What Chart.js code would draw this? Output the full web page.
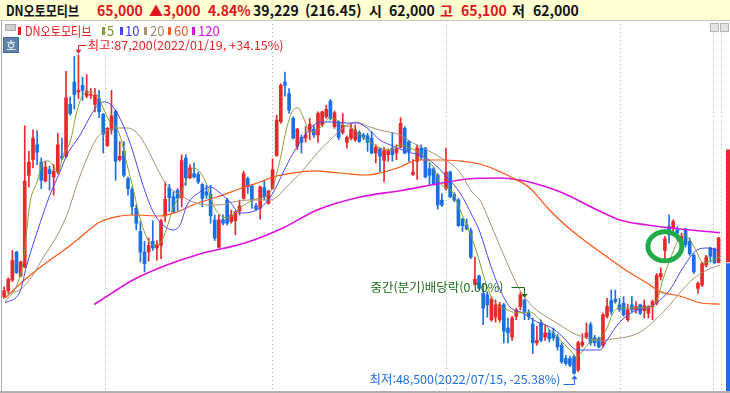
<!DOCTYPE html>
<html lang="ko">
<head>
<meta charset="utf-8">
<title>DN오토모티브</title>
<script src="https://cdn.jsdelivr.net/npm/chart.js@4.4.1/dist/chart.umd.min.js"></script>
<style>
  html, body { margin: 0; padding: 0; background: #fff; }
  #box { position: relative; width: 730px; height: 393px; overflow: hidden; font-family: "Noto Sans CJK KR", "Noto Sans", sans-serif; }
  #chart { position: absolute; left: 0; top: 0; }
  #head { position: absolute; left: 0; top: 0; width: 730px; height: 20px; background: #ffffd2; border-bottom: 1px solid #c4c4c4; z-index: 3; }
  #head span { position: absolute; top: 0; font-size: 14px; font-weight: bold; line-height: 20px; white-space: nowrap; color: #111; }
  #head .up { color: #e0141c; }
  .sq { transform: scaleX(0.86); transform-origin: 0 0; }
  .lg { position: absolute; top: 23px; font-size: 13px; line-height: 16px; white-space: nowrap; z-index: 2; }
  .mk { position: absolute; top: 27px; width: 3px; height: 8px; z-index: 2; }
  .ico { position: absolute; top: 23px; width: 7px; height: 7px; border: 1px solid #b4b4b4; background: #e4e4e4; z-index: 2; }
  #ho { position: absolute; left: 3px; top: 37px; width: 14px; height: 14px; background: #5f82aa; border: 1px solid #45668e; color: #fff; font-size: 11px; line-height: 14px; text-align: center; z-index: 2; }
  #lb { position: absolute; left: 1px; top: 21px; width: 1px; height: 372px; background: #a8a8a8; z-index: 2; }
  #bb { position: absolute; left: 0; top: 391px; width: 730px; height: 2px; background: #b0b0b0; z-index: 2; }
</style>
</head>
<body>
<div id="box">
  <canvas id="chart" width="730" height="393"></canvas>
  <div id="head">
    <span class="sq" style="left:6px">DN오토모티브</span>
    <span class="up" style="left:97px">65,000</span>
    <span class="up" style="left:149px">▲3,000</span>
    <span class="up" style="left:208px">4.84%</span>
    <span style="left:253px">39,229</span>
    <span style="left:305px">(216.45)</span>
    <span style="left:369px">시</span>
    <span style="left:389px">62,000</span>
    <span class="up" style="left:440px">고</span>
    <span class="up" style="left:461px">65,100</span>
    <span style="left:512px">저</span>
    <span style="left:533px">62,000</span>
  </div>
  <div style="position:absolute;left:5px;top:24px;width:9px;height:5px;background:#cfcfcf;border:1px solid #a9a9a9;z-index:2"></div>
  <div class="mk" style="left:18px;background:#e02020"></div>
  <div class="lg sq" style="left:25px;color:#e02020;transform:scaleX(0.85)">DN오토모티브</div>
  <div class="mk" style="left:102px;background:#84a030"></div>
  <div class="lg" style="left:107px;color:#7a9a2c">5</div>
  <div class="mk" style="left:120px;background:#4646f6"></div>
  <div class="lg" style="left:125px;color:#3c3cf0">10</div>
  <div class="mk" style="left:144px;background:#a89070"></div>
  <div class="lg" style="left:150px;color:#a08a6c">20</div>
  <div class="mk" style="left:168px;background:#ff5a1e"></div>
  <div class="lg" style="left:174px;color:#ff5a1e">60</div>
  <div class="mk" style="left:192px;background:#e010dc"></div>
  <div class="lg" style="left:198px;color:#d810d8">120</div>
  <div id="ho">호</div>
  <div class="ico" style="left:710px"></div>
  <div class="ico" style="left:720px"></div>
  <div id="lb"></div>
  <div id="bb"></div>
</div>
<script>
// daily candles, oldest first (index 0 .. 173)
const opens = [57900,58600,59900,63300,60400,61500,72600,74500,76300,74200,71900,73300,72400,73000,74900,74900,81200,83900,82700,83500,
  82200,82300,81200,81900,80000,76200,78100,80400,74500,75500,72200,70900,68600,65800,63300,63300,64600,63800,64100,67800,
  71100,70000,70800,69900,74700,72300,72800,72700,71500,70600,70300,67200,63900,67200,69600,67000,67100,68300,69800,72200,
  71300,68900,68600,71100,69200,71000,75000,79100,83900,82500,79500,76100,77200,77100,77900,78200,77500,78700,79700,81600,
  78500,79100,77800,76600,77100,76900,77800,77500,77400,77100,75300,75800,74400,75100,75900,75300,76000,78300,76700,72700,
  74300,75900,75900,73400,73400,72600,69600,71000,73000,70300,69600,67300,66600,65900,59400,60400,58300,58100,55100,55400,
  55100,56900,54100,53000,55500,56700,57500,55900,54600,52300,54700,53000,53500,53500,53000,52000,50400,50400,50600,49000,
  52000,53000,54500,52900,52800,52000,55500,57400,57600,56900,57100,55100,56900,56300,56900,56200,55900,56700,57100,60300,
  63500,66400,66200,66000,64700,66100,64600,62900,58900,59300,61700,63800,63700,62000];
const highs = [59100,60200,63500,63400,62200,78600,75500,78100,78000,74700,74300,73700,73900,77700,77100,85200,82100,87000,87200,84500,
  84800,83100,83100,82900,80100,78400,82900,80500,76700,76700,72400,71200,69000,67000,64600,65000,67100,64700,67300,71800,
  71500,70600,71000,75100,75100,73900,74100,73000,71600,71400,71400,67800,67800,67800,69800,68400,68300,69600,73100,72400,
  71500,69200,71300,71900,70800,74600,79900,83700,85100,83100,79700,78300,77500,78500,79500,78700,80300,80400,81100,81800,
  80400,79200,80100,77400,78900,78700,78000,77700,77700,77900,76300,75900,76000,75800,77800,76300,79600,78500,76800,74500,
  76300,76300,76000,74100,73600,72800,70400,75900,73100,70500,69800,67400,67300,66200,62700,60500,59400,58500,57900,57500,
  57200,57100,55300,55500,56500,58400,57600,56300,55300,54300,55100,54500,53900,54100,53300,52300,50800,50700,50800,52500,
  53400,54700,54800,53200,53000,55900,57700,58700,58700,57700,57900,57000,57900,57300,57000,57500,56800,57500,60700,61400,
  65200,67800,67200,66400,65600,66200,65000,63100,59700,62100,62900,63900,63800,65100];
const lows = [57700,58300,59700,60700,60300,61400,71200,73500,73900,71000,71800,70800,70200,72800,74500,74700,79900,80600,81900,81700,
  82000,81900,80300,79600,75300,76100,77600,72000,74300,72400,70200,67800,66000,62100,60900,62200,63500,62300,62500,67000,
  68200,68000,68300,68800,71400,72200,72300,71600,68800,69800,66800,64700,63800,66600,66600,66800,65400,67800,69700,70400,
  68600,68400,67300,69600,69100,70900,74900,78900,82200,80100,77000,75700,75300,76600,76900,77200,76600,78500,79500,79300,
  78300,76900,77600,75900,76900,76700,76600,76900,75500,75200,74100,73000,71800,74300,74300,74500,75900,75200,74300,72600,
  72100,74500,72300,71500,71400,68500,68800,70800,69900,69400,66400,65800,66000,62500,59300,58800,54500,55400,54900,54800,
  54800,52300,52300,52600,55100,56300,55100,55100,51000,52000,52400,52600,52400,52600,51400,49800,49600,49400,48500,48800,
  51800,52800,52000,51900,51700,51800,55300,55800,57100,56100,55500,54900,56000,55900,55700,55300,55300,55100,56900,59900,
  62100,64400,65400,64700,64200,63900,62900,60700,58300,59100,61500,62100,61900,62000];
const closes = [58600,60000,62300,60800,62100,71900,74200,77100,75400,72000,73600,72800,73100,76300,74700,82000,80100,82400,82900,82900,
  82800,82400,82300,80300,77600,78300,79800,74300,74900,72600,71000,68800,66800,63300,61900,64100,63800,64200,67100,69700,
  69900,68200,69800,74400,72300,73500,72400,71800,69800,70200,67700,65000,67200,66800,66800,67800,68200,68900,72800,71200,
  69600,68500,71200,70000,70700,73300,79300,83500,83500,80500,77100,78200,76600,77500,78800,77500,80100,80300,80600,79500,
  80200,77200,78700,77200,78200,78100,76700,77200,76600,75300,76000,74900,75600,75600,75100,75800,78900,75300,75500,73000,
  75900,74800,72400,72600,71500,69000,69000,73000,70000,69600,66500,66500,66100,62700,60000,58900,56500,56900,57600,56900,
  56900,53700,53500,55300,56300,58100,56100,55500,52300,52600,52600,53500,52800,52900,51800,50000,49800,49600,48600,52300,
  52400,53500,52300,52300,51800,55700,56700,56100,57300,56300,55700,56300,56300,56700,55900,56800,56700,57300,60500,60700,
  64900,65400,67000,65600,65200,64200,63100,60900,59500,61900,62700,62800,62000,65000];

// moving averages: [candle index, price]
const ma5 = [[0.2,57250],[3.1,59310],[4.6,62100],[6.3,69370],[8.0,71790],[9.4,74210],[10.6,74340],[11.8,73850],[13.1,73000],[14.3,75060],
  [16.0,76640],[17.6,80280],[19.1,82340],[20.8,82700],[22.5,82340],[23.9,80880],[25.6,79060],[27.3,78340],[28.5,76640],[29.8,73850],
  [31.2,71060],[32.9,67430],[34.6,65010],[36.1,64160],[37.8,64400],[39.4,66220],[40.9,68640],[42.6,70220],[44.3,72280],[45.7,73490],
  [47.4,73000],[49.1,71430],[50.6,69010],[52.3,67790],[54.0,67430],[55.4,67790],[57.1,68640],[60.3,69610],[63.7,70220],[65.1,71180],
  [66.8,74460],[68.5,78460],[70.0,80520],[71.2,80760],[72.4,79670],[74.1,77850],[75.8,78090],[77.2,78700],[78.9,79550],[80.6,79310],
  [82.1,78700],[83.8,78460],[85.4,77850],[86.9,77250],[88.6,76640],[91.0,75910],[93.4,75670],[95.9,76280],[98.3,75910],[100.7,75310],
  [102.4,74460],[103.9,73610],[105.5,71670],[107.2,71060],[108.7,70460],[110.4,68400],[112.8,65610],[114.5,63190],[116.4,59920],[118.4,57490],
  [121.8,56280],[124.9,55920],[127.3,56040],[129.8,55070],[132.2,53860],[134.6,52650],[137.0,51430],[138.7,50580],[140.2,51430],[142.6,52650],
  [144.3,52890],[146.0,54100],[147.4,55920],[149.1,56520],[151.6,56520],[154.0,56520],[156.4,56640],[158.1,57490],[159.5,59920],[161.2,62340],
  [162.9,64400],[164.4,65370],[166.1,64770],[167.8,63190],[169.2,61980],[171.6,62340],[173.3,62700]];
const ma10 = [[0.2,57130],[3.8,58460],[5.5,61730],[8.0,65730],[11.1,70220],[13.5,73000],[15.2,75060],[18.4,77490],[21.5,80280],[23.2,81370],
  [24.4,81490],[26.4,80880],[28.8,78700],[31.2,75430],[33.6,71430],[36.1,68160],[38.5,66580],[40.9,65980],[42.6,66580],[44.3,69010],
  [47.4,70580],[49.9,71180],[52.3,70460],[54.7,69370],[57.1,68030],[62.0,68640],[65.1,70460],[67.5,72880],[70.0,75310],[73.3,77730],
  [76.5,79060],[79.6,79060],[83.0,78940],[85.4,78940],[87.9,78340],[91.0,76880],[94.2,76150],[97.6,75430],[100.7,75060],[103.9,74090],
  [107.2,72400],[110.4,70460],[113.5,67550],[115.2,65730],[117.6,61980],[120.1,58700],[122.5,56640],[125.6,55920],[129.0,54820],[132.2,54220],
  [135.3,53010],[137.0,52040],[138.7,51430],[141.9,51430],[144.3,51430],[146.0,52650],[149.1,54820],[153.2,56280],[156.4,56640],[158.8,57490],
  [161.2,58700],[163.6,60760],[166.1,62700],[167.8,63550],[170.2,63790],[173.3,63430]];
const ma20 = [[0.7,58340],[3.8,58700],[7.0,60520],[9.4,62580],[11.8,64400],[15.2,67790],[17.6,71430],[20.1,74700],[22.5,77120],[24.9,77970],
  [27.3,78340],[29.8,78340],[32.2,77730],[34.6,75910],[37.0,73490],[39.4,71430],[42.6,70220],[45.7,69370],[49.1,69010],[52.3,69010],
  [55.4,69370],[59.5,69610],[64.4,69610],[69.2,71600],[73.3,73760],[75.8,75310],[78.9,76880],[82.1,78340],[85.4,79060],[87.9,78580],
  [91.0,78090],[95.9,77490],[99.0,76520],[102.4,75670],[105.5,74820],[109.7,73370],[113.5,70460],[115.2,69610],[118.4,65980],[121.8,61980],
  [124.9,58700],[128.1,56640],[131.4,55430],[134.6,54460],[137.7,53490],[141.1,52890],[144.3,52520],[147.4,52770],[150.8,53010],[154.0,53610],
  [157.1,54820],[160.5,56520],[163.6,58340],[166.8,60030],[170.2,61130],[173.3,61730]];
const ma60 = [[0.2,57730],[5.5,60160],[11.1,62340],[15.2,63790],[19.1,65370],[23.2,66940],[28.1,67670],[31.2,67790],[37.8,67670],[41.9,68160],
  [45.7,69010],[51.5,69970],[58.3,71180],[62.0,71790],[65.1,72400],[70.0,72880],[74.8,73130],[81.3,72880],[87.9,72640],[91.0,72880],
  [95.9,73610],[100.0,74460],[105.5,74460],[110.4,74340],[115.2,73970],[120.1,73040],[123.2,72280],[127.3,71060],[131.4,68760],[135.3,66820],
  [139.4,65130],[146.0,62700],[151.6,60760],[155.7,59550],[158.8,58500],[163.6,57980],[168.5,57160],[173.3,57000]];
const ma120 = [[21.8,56950],[26.0,58300],[31.2,59920],[39.4,61730],[47.4,63070],[58.3,64400],[67.5,66220],[75.8,68400],[86.2,69970],
  [95.9,70740],[104.8,71550],[112.1,72160],[120.1,72280],[124.9,72030],[128.1,71670],[135.3,70460],[143.6,68400],[149.1,67190],[155.7,66580],
  [163.6,66100],[173.3,65650]];

// two-month separators (candle index) and the price grid
const monthLines = [5.5, 43.8, 86.4, 127.6, 170.9, 172.8];
const priceStep = 2500;
const priceTopLine = 85000;

// side gauge at the right edge
const gaugeSlot = 175.35;
const gaugeRed = [62100, 75700];
const gaugeBlue = [46218, 61900];

// marks on the chart
const highMark = { i: 18, v: 87200, text: '최고:87,200(2022/01/19, +34.15%)' };
const lowMark = { i: 138, v: 48500, text: '최저:48,500(2022/07/15, -25.38%)' };
const divMark = { i: 126, v: 57600, text: '중간(분기)배당락(0.00%)' };
const ringMark = { i: 160, v: 64000 };

const UP = '#e8282c';
const DOWN = '#1a6fe3';
const GRID = '#b2b2b2';

const idx = closes.map((_, i) => i);
const candleColor = idx.map(i => (closes[i] >= opens[i] ? UP : DOWN));
const pts = arr => arr.map(([x, y]) => ({ x, y }));

function maLine(label, data, color, width) {
  return {
    type: 'line', label, data: pts(data),
    borderColor: color, borderWidth: width,
    pointRadius: 0, cubicInterpolationMode: 'monotone', order: 1,
  };
}

function fitText(ctx, text, x, y, w, alignRight) {
  const m = ctx.measureText(text).width;
  ctx.save();
  ctx.translate(alignRight ? x - w : x, y);
  ctx.scale(w / m, 1);
  ctx.fillText(text, 0, 0);
  ctx.restore();
}

function arrowHead(ctx, x, tipY, dir) {
  ctx.beginPath();
  ctx.moveTo(x - 3, tipY - 4 * dir);
  ctx.lineTo(x + 3, tipY - 4 * dir);
  ctx.lineTo(x, tipY);
  ctx.closePath();
  ctx.fill();
}

const marksPlugin = {
  id: 'marks',
  afterDatasetsDraw(chart) {
    const { ctx, scales: { x, y } } = chart;
    ctx.save();
    ctx.font = '12px "Noto Sans CJK KR", sans-serif';
    ctx.textBaseline = 'middle';
    ctx.lineWidth = 1;

    // highest price
    let px = Math.round(x.getPixelForValue(highMark.i)) + 0.5;
    let py = y.getPixelForValue(highMark.v);
    ctx.strokeStyle = ctx.fillStyle = '#e42424';
    ctx.beginPath();
    ctx.moveTo(px + 8, Math.round(py - 10) + 0.5);
    ctx.lineTo(px, Math.round(py - 10) + 0.5);
    ctx.lineTo(px, py - 4);
    ctx.stroke();
    arrowHead(ctx, px, py - 1, 1);
    fitText(ctx, highMark.text, px + 9, py - 9, 196, false);

    // lowest price
    px = Math.round(x.getPixelForValue(lowMark.i)) + 0.5;
    py = y.getPixelForValue(lowMark.v);
    ctx.strokeStyle = ctx.fillStyle = '#1e6fe0';
    ctx.beginPath();
    ctx.moveTo(px - 11, Math.round(py + 10) + 0.5);
    ctx.lineTo(px, Math.round(py + 10) + 0.5);
    ctx.lineTo(px, py + 5);
    ctx.stroke();
    arrowHead(ctx, px, py + 1, -1);
    fitText(ctx, lowMark.text, px - 14, py + 5, 191, true);

    // dividend date
    px = Math.round(x.getPixelForValue(divMark.i)) + 0.5;
    py = y.getPixelForValue(divMark.v);
    ctx.strokeStyle = ctx.fillStyle = '#1c6a1c';
    ctx.beginPath();
    ctx.moveTo(px - 13, Math.round(py - 12) + 0.5);
    ctx.lineTo(px, Math.round(py - 12) + 0.5);
    ctx.lineTo(px, py - 5);
    ctx.stroke();
    arrowHead(ctx, px, py - 1, 1);
    fitText(ctx, divMark.text, px - 21, py - 12, 133, true);

    // green ring
    ctx.strokeStyle = '#22aa4a';
    ctx.lineWidth = 5;
    ctx.beginPath();
    ctx.ellipse(x.getPixelForValue(ringMark.i), y.getPixelForValue(ringMark.v), 17, 14.5, 0, 0, Math.PI * 2);
    ctx.stroke();
    ctx.restore();
  },
};

new Chart(document.getElementById('chart'), {
  type: 'bar',
  data: {
    datasets: [
      maLine('5', ma5, '#84a030', 1),
      maLine('10', ma10, '#4848f8', 1),
      maLine('20', ma20, '#a89070', 1),
      maLine('60', ma60, '#ff5512', 1.2),
      maLine('120', ma120, '#dd11dd', 1.6),
      {
        type: 'bar', label: 'wick',
        data: idx.map(i => ({ x: i, y: [lows[i], highs[i]] })),
        backgroundColor: candleColor, barThickness: 1, grouped: false, order: 3,
      },
      {
        type: 'bar', label: 'body',
        data: idx.map(i => ({ x: i, y: [opens[i], closes[i]] })),
        backgroundColor: candleColor, barThickness: 3, minBarLength: 1, grouped: false, order: 2,
      },
      {
        type: 'bar', label: 'gauge',
        data: [{ x: gaugeSlot, y: gaugeRed }],
        backgroundColor: '#e8282c', barThickness: 4, grouped: false, order: 2,
      },
      {
        type: 'bar', label: 'gauge2',
        data: [{ x: gaugeSlot, y: gaugeBlue }],
        backgroundColor: '#1a6fe3', barThickness: 4, grouped: false, order: 2,
      },
    ],
  },
  options: {
    responsive: false,
    devicePixelRatio: 1,
    animation: false,
    events: [],
    layout: { padding: 0 },
    plugins: { legend: { display: false }, tooltip: { enabled: false } },
    scales: {
      x: {
        type: 'linear', min: -0.993, max: 175.76, offset: false,
        ticks: { display: false },
        grid: { drawTicks: false, color: GRID, lineWidth: 1 },
        border: { display: false, dash: [1, 3] },
        afterBuildTicks: s => { s.ticks = monthLines.map(v => ({ value: v })); },
      },
      y: {
        type: 'linear', min: 46218, max: 93850,
        ticks: { display: false, stepSize: priceStep },
        grid: {
          drawTicks: false, lineWidth: 1,
          color: c => (c.tick && c.tick.value % priceStep === 0 && c.tick.value <= priceTopLine ? GRID : 'rgba(0,0,0,0)'),
        },
        border: { display: false, dash: [1, 3] },
      },
    },
  },
  plugins: [marksPlugin],
});
</script>
</body>
</html>
